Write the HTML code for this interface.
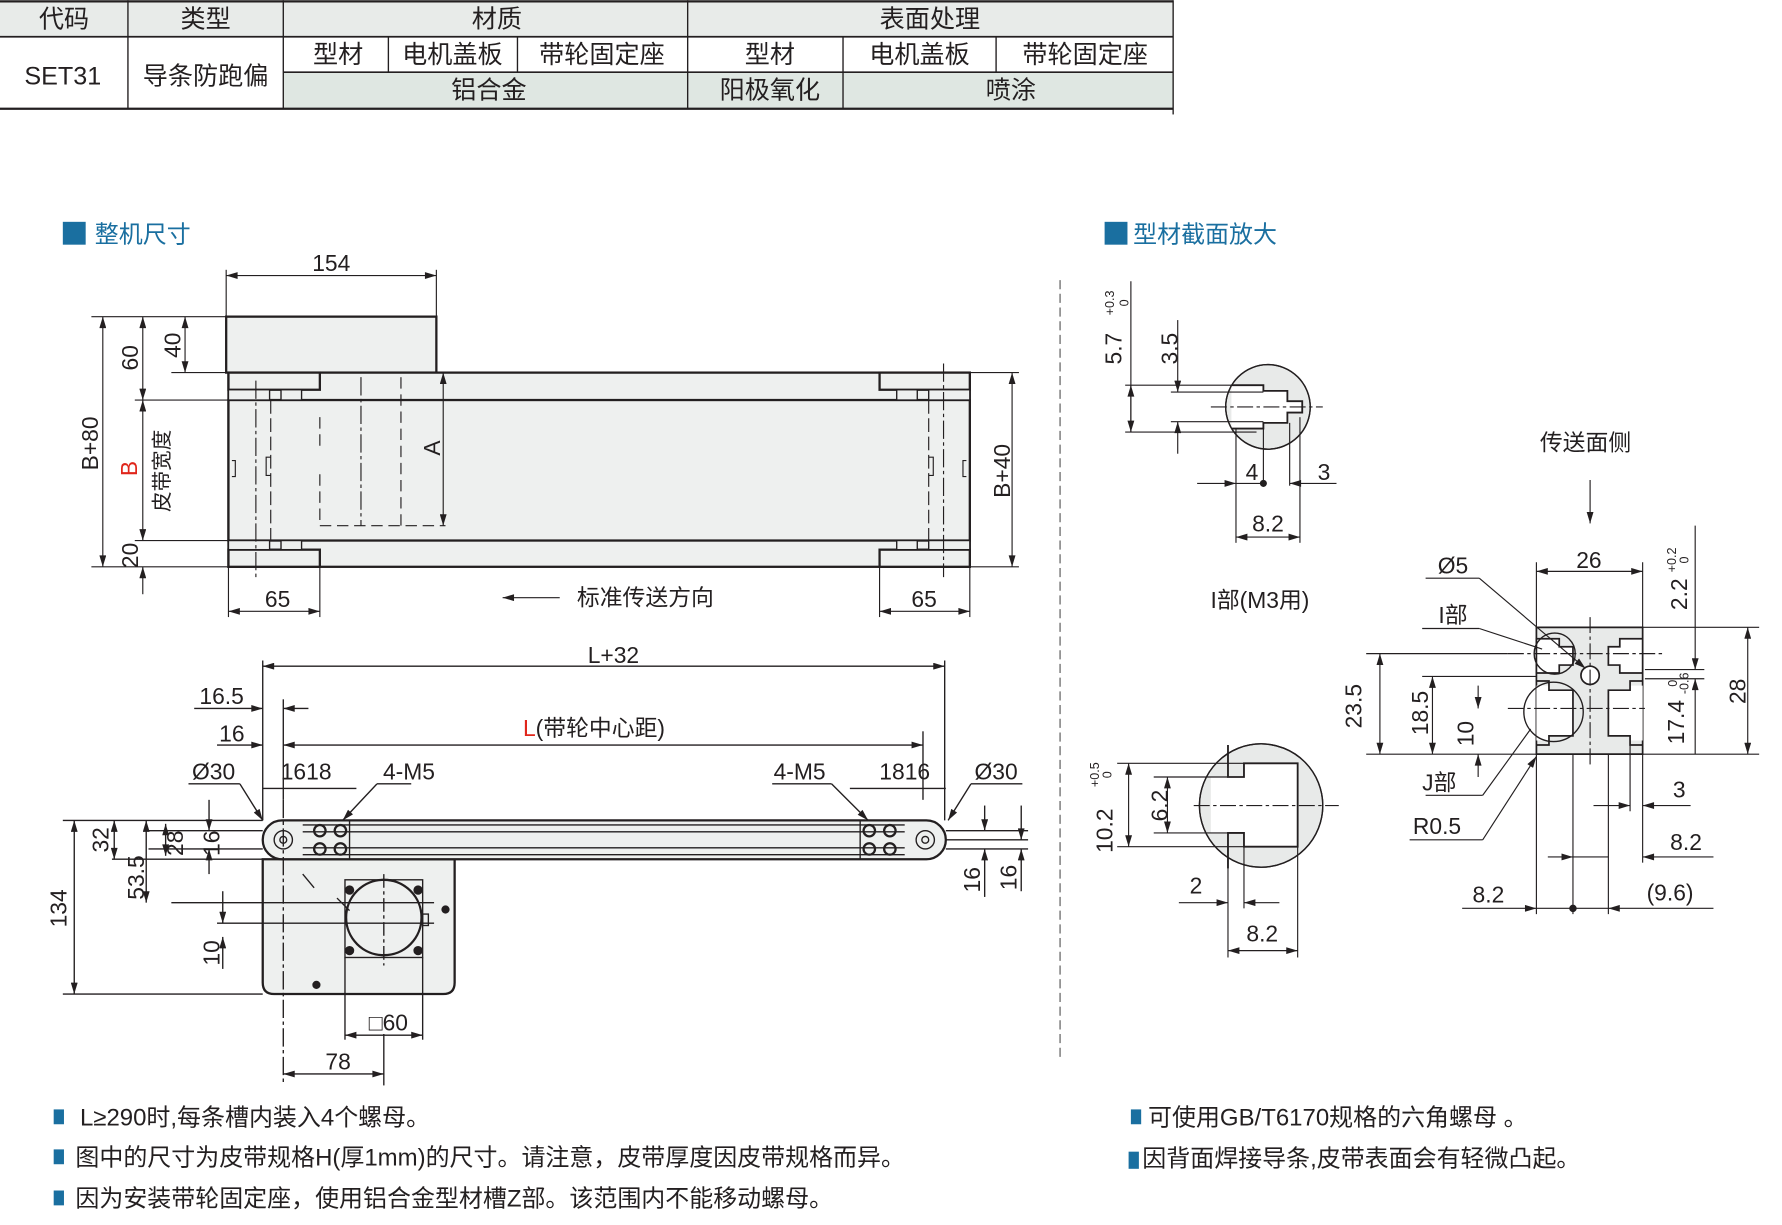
<!DOCTYPE html>
<html><head><meta charset="utf-8"><style>
html,body{margin:0;padding:0;background:#fff;}
svg{display:block;}
text{font-family:"Liberation Sans","Noto Sans CJK SC",sans-serif;fill:#231f20;}
</style></head><body>
<svg width="1782" height="1225" viewBox="0 0 1560 1072" xmlns="http://www.w3.org/2000/svg">
<defs>
<marker id="a" viewBox="0 0 10 6" refX="10" refY="3" markerWidth="12" markerHeight="6" markerUnits="userSpaceOnUse" orient="auto-start-reverse"><path d="M0,0 L10,3 L0,6 z" fill="#231f20"/></marker>
</defs>
<g stroke="#231f20" stroke-width="1.2" fill="none">
<rect x="0" y="0" width="1027" height="32" fill="#e8ebe9" stroke="none"/>
<rect x="248" y="63" width="779" height="32" fill="#dfe7e2" stroke="none"/>
<line x1="0" y1="1" x2="1027" y2="1" stroke-width="2"/>
<line x1="0" y1="32" x2="1027" y2="32" stroke-width="1.5"/>
<line x1="248" y1="63" x2="1027" y2="63" stroke-width="1.5"/>
<line x1="0" y1="95" x2="1027" y2="95" stroke-width="2"/>
<line x1="112" y1="0" x2="112" y2="95"/><line x1="248" y1="0" x2="248" y2="95"/>
<line x1="602" y1="0" x2="602" y2="95"/><line x1="1027" y1="0" x2="1027" y2="100"/>
<line x1="340" y1="32" x2="340" y2="63"/><line x1="453" y1="32" x2="453" y2="63"/>
<line x1="738" y1="32" x2="738" y2="95"/><line x1="872" y1="32" x2="872" y2="63"/>
</g>
<g font-size="22" text-anchor="middle">
<text x="56" y="24">代码</text><text x="180" y="24">类型</text><text x="435" y="24">材质</text><text x="814" y="24">表面处理</text>
<text x="296" y="55">型材</text><text x="396" y="55">电机盖板</text><text x="527" y="55">带轮固定座</text>
<text x="674" y="55">型材</text><text x="805" y="55">电机盖板</text><text x="950" y="55">带轮固定座</text>
<text x="55" y="74">SET31</text><text x="180" y="74">导条防跑偏</text>
<text x="428" y="86">铝合金</text><text x="674" y="86">阳极氧化</text><text x="885" y="86">喷涂</text>
</g>
<rect x="55" y="194" width="20" height="20" fill="#1a6fa0"/>
<text x="83" y="212" font-size="21" style="fill:#1a6fa0">整机尺寸</text>
<rect x="967" y="194" width="20" height="20" fill="#1a6fa0"/>
<text x="992" y="212" font-size="21" style="fill:#1a6fa0">型材截面放大</text>
<line x1="928" y1="245" x2="928" y2="928" stroke="#555" stroke-width="1" stroke-dasharray="8,4"/>

<!-- TOP VIEW -->
<g stroke="#231f20" stroke-width="2" fill="#eef0ef">
<rect x="198" y="277" width="184" height="49"/>
<rect x="200" y="326" width="649" height="170"/>
<rect x="200" y="350" width="649" height="123"/>
<rect x="200" y="326" width="80" height="15"/><rect x="770" y="326" width="79" height="15"/>
<rect x="200" y="481" width="80" height="15"/><rect x="770" y="481" width="79" height="15"/>
<rect x="200" y="341" width="36" height="9" stroke-width="1.2"/><rect x="813" y="341" width="36" height="9" stroke-width="1.2"/>
<rect x="200" y="473" width="36" height="8" stroke-width="1.2"/><rect x="813" y="473" width="36" height="8" stroke-width="1.2"/>
<rect x="246" y="341" width="18" height="9" stroke-width="1.2"/><rect x="785" y="341" width="18" height="9" stroke-width="1.2"/>
<rect x="246" y="473" width="18" height="8" stroke-width="1.2"/><rect x="785" y="473" width="18" height="8" stroke-width="1.2"/>
</g>
<g stroke="#231f20" stroke-width="1" fill="none">
<line x1="224" y1="333" x2="224" y2="505" stroke-dasharray="16,3,3,3"/>
<line x1="237" y1="350" x2="237" y2="473" stroke-dasharray="12,4"/>
<line x1="826" y1="318" x2="826" y2="505" stroke-dasharray="16,3,3,3"/>
<line x1="813" y1="350" x2="813" y2="473" stroke-dasharray="12,4"/>
<line x1="280" y1="415" x2="280" y2="460" stroke-dasharray="10,5"/>
<line x1="280" y1="365" x2="280" y2="395" stroke-dasharray="10,5"/>
<line x1="316" y1="330" x2="316" y2="460" stroke-dasharray="16,3,3,3"/>
<line x1="351" y1="330" x2="351" y2="460" stroke-dasharray="10,5"/>
<line x1="280" y1="460" x2="390" y2="460" stroke-dasharray="10,5"/>
<path d="M203,403 h3 v14 h-3 M846,403 h-3 v14 h3"/>
<path d="M237,400 h-4 v16 h4 M813,400 h4 v16 h-4"/>
<line x1="198" y1="236" x2="198" y2="277"/><line x1="382" y1="236" x2="382" y2="277"/>
<line x1="198" y1="241" x2="382" y2="241" marker-start="url(#a)" marker-end="url(#a)"/>
<line x1="80" y1="277" x2="198" y2="277"/><line x1="80" y1="496" x2="200" y2="496"/>
<line x1="118" y1="350" x2="200" y2="350"/><line x1="118" y1="473" x2="200" y2="473"/>
<line x1="150" y1="326" x2="200" y2="326"/>
<line x1="90" y1="277" x2="90" y2="496" marker-start="url(#a)" marker-end="url(#a)"/>
<line x1="125" y1="277" x2="125" y2="350" marker-start="url(#a)" marker-end="url(#a)"/>
<line x1="125" y1="350" x2="125" y2="473" marker-start="url(#a)" marker-end="url(#a)"/>
<line x1="125" y1="496" x2="125" y2="520" marker-start="url(#a)"/>
<line x1="162" y1="277" x2="162" y2="326" marker-start="url(#a)" marker-end="url(#a)"/>
<line x1="388" y1="326" x2="388" y2="460" marker-start="url(#a)" marker-end="url(#a)"/>
<line x1="849" y1="326" x2="892" y2="326"/><line x1="849" y1="496" x2="892" y2="496"/>
<line x1="886" y1="326" x2="886" y2="496" marker-start="url(#a)" marker-end="url(#a)"/>
<line x1="200" y1="496" x2="200" y2="540"/><line x1="280" y1="496" x2="280" y2="540"/>
<line x1="770" y1="496" x2="770" y2="540"/><line x1="849" y1="496" x2="849" y2="540"/>
<line x1="200" y1="535" x2="280" y2="535" marker-start="url(#a)" marker-end="url(#a)"/>
<line x1="770" y1="535" x2="849" y2="535" marker-start="url(#a)" marker-end="url(#a)"/>
<line x1="490" y1="523" x2="440" y2="523" marker-end="url(#a)"/>
</g>
<g font-size="20" text-anchor="middle">
<text x="290" y="237">154</text>
<text x="243" y="531">65</text><text x="809" y="531">65</text>
<text x="565" y="530">标准传送方向</text>
<text transform="translate(86,388) rotate(-90)">B+80</text>
<text transform="translate(121,313) rotate(-90)">60</text>
<text transform="translate(158,302) rotate(-90)">40</text>
<text transform="translate(121,486) rotate(-90)">20</text>
<text transform="translate(120,410) rotate(-90)" style="fill:#e0261b">B</text>
<text transform="translate(148,412) rotate(-90)" font-size="18">皮带宽度</text>
<text transform="translate(385,392) rotate(-90)">A</text>
<text transform="translate(884,412) rotate(-90)">B+40</text>
</g>

<!-- SIDE VIEW -->
<g stroke="#231f20" stroke-width="2" fill="#eef0ef">
<path d="M230,752 H398 V860 Q398,870 388,870 H240 Q230,870 230,860 Z"/>
<rect x="230" y="718" width="598" height="34" rx="17"/>
<rect x="302" y="770" width="68" height="68" fill="none" stroke-width="1.2"/>
<circle cx="336" cy="803" r="33"/>
</g>
<g stroke="#231f20" stroke-width="1.2" fill="none">
<line x1="265" y1="722" x2="792" y2="722"/><line x1="265" y1="728" x2="792" y2="728"/>
<line x1="265" y1="742" x2="792" y2="742"/><line x1="265" y1="748" x2="792" y2="748"/>
<line x1="306" y1="718" x2="306" y2="752"/><line x1="753" y1="718" x2="753" y2="752"/>
<circle cx="248" cy="735" r="8"/><circle cx="248" cy="735" r="3"/>
<circle cx="810" cy="735" r="8"/><circle cx="810" cy="735" r="3"/>
<g stroke-width="2"><circle cx="280" cy="727" r="5"/><circle cx="280" cy="743" r="5"/><circle cx="298" cy="727" r="5"/><circle cx="298" cy="743" r="5"/>
<circle cx="761" cy="727" r="5"/><circle cx="761" cy="743" r="5"/><circle cx="779" cy="727" r="5"/><circle cx="779" cy="743" r="5"/></g>
<circle cx="306" cy="779" r="3.5" fill="#231f20"/><circle cx="366" cy="779" r="3.5" fill="#231f20"/>
<circle cx="306" cy="832" r="3.5" fill="#231f20"/><circle cx="366" cy="832" r="3.5" fill="#231f20"/>
<circle cx="390" cy="796" r="3" fill="#231f20"/><circle cx="277" cy="862" r="3" fill="#231f20"/>
<rect x="370" y="800" width="5" height="10"/>
<line x1="265" y1="765" x2="275" y2="777"/><line x1="295" y1="786" x2="306" y2="797"/>
<line x1="336" y1="765" x2="336" y2="845" stroke-dasharray="12,3,3,3"/>
<line x1="248" y1="700" x2="248" y2="950" stroke-dasharray="16,3,3,3"/>
<line x1="150" y1="790" x2="380" y2="790"/><line x1="190" y1="808" x2="380" y2="808"/>
<line x1="230" y1="578" x2="230" y2="718"/><line x1="827" y1="578" x2="827" y2="718"/>
<line x1="230" y1="583" x2="827" y2="583" marker-start="url(#a)" marker-end="url(#a)"/>
<line x1="248" y1="612" x2="248" y2="700"/><line x1="808" y1="640" x2="808" y2="700"/>
<line x1="170" y1="620" x2="230" y2="620" marker-end="url(#a)"/><line x1="270" y1="620" x2="248" y2="620" marker-end="url(#a)"/>
<line x1="190" y1="652" x2="230" y2="652" marker-end="url(#a)"/>
<line x1="248" y1="652" x2="808" y2="652" marker-start="url(#a)" marker-end="url(#a)"/>
<line x1="230" y1="690" x2="312" y2="690"/><line x1="744" y1="690" x2="828" y2="690"/>
<line x1="165" y1="686" x2="210" y2="686"/><line x1="210" y1="686" x2="230" y2="718" marker-end="url(#a)"/>
<line x1="330" y1="686" x2="360" y2="686"/><line x1="330" y1="686" x2="300" y2="718" marker-end="url(#a)"/>
<line x1="676" y1="686" x2="728" y2="686"/><line x1="728" y1="686" x2="760" y2="718" marker-end="url(#a)"/>
<line x1="850" y1="686" x2="895" y2="686"/><line x1="850" y1="686" x2="830" y2="718" marker-end="url(#a)"/>
<line x1="55" y1="718" x2="230" y2="718"/><line x1="55" y1="870" x2="230" y2="870"/>
<line x1="65" y1="718" x2="65" y2="870" marker-start="url(#a)" marker-end="url(#a)"/>
<line x1="98" y1="752" x2="230" y2="752"/>
<line x1="100" y1="718" x2="100" y2="752" marker-start="url(#a)" marker-end="url(#a)"/>
<line x1="128" y1="718" x2="128" y2="790" marker-start="url(#a)" marker-end="url(#a)"/>
<line x1="145" y1="721" x2="145" y2="749" marker-start="url(#a)" marker-end="url(#a)"/>
<line x1="183" y1="700" x2="183" y2="727" marker-end="url(#a)"/><line x1="183" y1="765" x2="183" y2="743" marker-end="url(#a)"/>
<line x1="130" y1="727" x2="230" y2="727"/><line x1="130" y1="743" x2="230" y2="743"/>
<line x1="195" y1="780" x2="195" y2="808" marker-end="url(#a)"/><line x1="195" y1="848" x2="195" y2="820" marker-end="url(#a)"/>
<line x1="828" y1="727" x2="900" y2="727"/><line x1="828" y1="743" x2="900" y2="743"/><line x1="828" y1="735" x2="900" y2="735"/>
<line x1="862" y1="705" x2="862" y2="727" marker-end="url(#a)"/><line x1="862" y1="785" x2="862" y2="743" marker-end="url(#a)"/>
<line x1="894" y1="705" x2="894" y2="735" marker-end="url(#a)"/><line x1="894" y1="780" x2="894" y2="743" marker-end="url(#a)"/>
<line x1="302" y1="838" x2="302" y2="910"/><line x1="370" y1="838" x2="370" y2="910"/>
<line x1="302" y1="906" x2="370" y2="906" marker-start="url(#a)" marker-end="url(#a)"/>
<line x1="336" y1="905" x2="336" y2="950"/>
<line x1="248" y1="940" x2="336" y2="940" marker-start="url(#a)" marker-end="url(#a)"/>
</g>
<g font-size="20" text-anchor="middle">
<text x="537" y="580">L+32</text>
<text x="194" y="616">16.5</text><text x="203" y="649">16</text>
<text x="520" y="644"><tspan style="fill:#e0261b">L</tspan>(带轮中心距)</text>
<text x="187" y="682">Ø30</text><text x="268" y="682">1618</text><text x="358" y="682">4-M5</text>
<text x="700" y="682">4-M5</text><text x="792" y="682">1816</text><text x="872" y="682">Ø30</text>
<text x="340" y="902">□60</text><text x="296" y="936">78</text>
<text transform="translate(58,795) rotate(-90)">134</text>
<text transform="translate(95,735) rotate(-90)">32</text>
<text transform="translate(126,768) rotate(-90)">53.5</text>
<text transform="translate(160,738) rotate(-90)">28</text>
<text transform="translate(192,738) rotate(-90)">16</text>
<text transform="translate(192,834) rotate(-90)">10</text>
<text transform="translate(858,770) rotate(-90)">16</text>
<text transform="translate(890,768) rotate(-90)">16</text>
</g>

<!-- detail I -->
<g stroke="#231f20" stroke-width="1.2">
<circle cx="1110" cy="356" r="37" fill="#e8eae9"/>
<path d="M1078,337 H1106 V342 H1127 V351 H1140 V361 H1127 V370 H1106 V375 H1078 Z" fill="#fff" stroke="none"/>
<path d="M1078,337 H1106 V342 H1127 V351 H1140 V361 H1127 V370 H1106 V375 H1078" fill="none" stroke-width="1.6"/>
<circle cx="1110" cy="356" r="37" fill="none"/>
<g fill="none" stroke-width="1">
<line x1="1060" y1="356" x2="1158" y2="356" stroke-dasharray="14,3,3,3"/>
<line x1="985" y1="337" x2="1100" y2="337"/><line x1="985" y1="378" x2="1100" y2="378"/>
<line x1="1025" y1="343" x2="1106" y2="343"/><line x1="1025" y1="369" x2="1106" y2="369"/>
<line x1="990" y1="246" x2="990" y2="378"/><line x1="990" y1="337" x2="990" y2="378" marker-start="url(#a)" marker-end="url(#a)"/>
<line x1="1031" y1="280" x2="1031" y2="343" marker-end="url(#a)"/><line x1="1031" y1="397" x2="1031" y2="369" marker-end="url(#a)"/>
<line x1="1082" y1="375" x2="1082" y2="475"/><line x1="1106" y1="375" x2="1106" y2="425"/>
<line x1="1129" y1="370" x2="1129" y2="425"/><line x1="1138" y1="365" x2="1138" y2="475"/>
<line x1="1048" y1="423" x2="1082" y2="423" marker-end="url(#a)"/><line x1="1082" y1="423" x2="1106" y2="423"/>
<line x1="1170" y1="423" x2="1129" y2="423" marker-end="url(#a)"/>
<line x1="1082" y1="470" x2="1138" y2="470" marker-start="url(#a)" marker-end="url(#a)"/>
</g>
<circle cx="1106" cy="423" r="2.5" fill="#231f20"/>
</g>
<!-- detail J -->
<g stroke="#231f20" stroke-width="1.2">
<circle cx="1104" cy="705" r="54" fill="#e8eae9"/>
<path d="M1060,680 H1089 V668 H1136 V741 H1089 V729 H1060 Z" fill="#fff" stroke="none"/>
<path d="M1075,652 V680 H1089 V668 H1136 V741 H1089 V729 H1075 V760" fill="none" stroke-width="1.6"/>
<circle cx="1104" cy="705" r="54" fill="none"/>
<g fill="none" stroke-width="1">
<line x1="1045" y1="705" x2="1172" y2="705" stroke-dasharray="14,3,3,3"/>
<line x1="978" y1="668" x2="1089" y2="668"/><line x1="978" y1="741" x2="1089" y2="741"/>
<line x1="1010" y1="680" x2="1075" y2="680"/><line x1="1010" y1="729" x2="1075" y2="729"/>
<line x1="988" y1="668" x2="988" y2="741" marker-start="url(#a)" marker-end="url(#a)"/>
<line x1="1022" y1="680" x2="1022" y2="729" marker-start="url(#a)" marker-end="url(#a)"/>
<line x1="1075" y1="740" x2="1075" y2="838"/><line x1="1089" y1="741" x2="1089" y2="795"/>
<line x1="1136" y1="741" x2="1136" y2="838"/>
<line x1="1032" y1="790" x2="1075" y2="790" marker-end="url(#a)"/><line x1="1120" y1="790" x2="1089" y2="790" marker-end="url(#a)"/>
<line x1="1075" y1="832" x2="1136" y2="832" marker-start="url(#a)" marker-end="url(#a)"/>
</g>
</g>
<!-- profile -->
<g stroke="#231f20" stroke-width="1.5">
<path d="M1345,549 H1438 V660 H1345 Z" fill="#e8eae9"/>
<g fill="#fff">
<path d="M1345,559 H1365 V566 H1377 V582 H1365 V589 H1345 Z"/>
<path d="M1438,559 H1418 V566 H1408 V582 H1418 V589 H1438 Z"/>
<path d="M1345,600 H1356 V604 H1377 V644 H1356 V648 H1345 Z" stroke="none"/>
<path d="M1345,596 H1356 V604 H1377 V644 H1356 V652 H1345" fill="none"/>
<path d="M1438,600 H1427 V604 H1408 V644 H1427 V648 H1438 Z" stroke="none"/>
<path d="M1438,596 H1427 V604 H1408 V644 H1427 V652 H1438" fill="none"/>
<circle cx="1392" cy="591" r="8"/>
</g>
<circle cx="1361" cy="572" r="18" fill="none" stroke-width="1.2"/>
<circle cx="1360" cy="623" r="26" fill="none" stroke-width="1.2"/>
<g fill="none" stroke-width="1">
<line x1="1392" y1="540" x2="1392" y2="670" stroke-dasharray="14,3,3,3"/>
<line x1="1320" y1="572" x2="1456" y2="572" stroke-dasharray="14,3,3,3"/>
<line x1="1320" y1="620" x2="1440" y2="620" stroke-dasharray="14,3,3,3"/>
<line x1="1392" y1="420" x2="1392" y2="458" marker-end="url(#a)"/>
<line x1="1345" y1="492" x2="1345" y2="549"/><line x1="1438" y1="492" x2="1438" y2="549"/>
<line x1="1345" y1="500" x2="1438" y2="500" marker-start="url(#a)" marker-end="url(#a)"/>
<line x1="1438" y1="549" x2="1540" y2="549"/><line x1="1438" y1="660" x2="1540" y2="660"/>
<line x1="1196" y1="660" x2="1345" y2="660"/>
<line x1="1530" y1="549" x2="1530" y2="660" marker-start="url(#a)" marker-end="url(#a)"/>
<line x1="1484" y1="460" x2="1484" y2="586" marker-end="url(#a)"/>
<line x1="1484" y1="660" x2="1484" y2="594" marker-end="url(#a)"/>
<line x1="1440" y1="586" x2="1492" y2="586"/><line x1="1440" y1="594" x2="1492" y2="594"/>
<line x1="1196" y1="572" x2="1320" y2="572"/>
<line x1="1208" y1="572" x2="1208" y2="660" marker-start="url(#a)" marker-end="url(#a)"/>
<line x1="1245" y1="592" x2="1345" y2="592"/>
<line x1="1254" y1="592" x2="1254" y2="660" marker-start="url(#a)" marker-end="url(#a)"/>
<line x1="1294" y1="600" x2="1294" y2="620" marker-end="url(#a)"/><line x1="1294" y1="680" x2="1294" y2="660" marker-end="url(#a)"/>
<line x1="1345" y1="660" x2="1345" y2="800"/><line x1="1377" y1="660" x2="1377" y2="800"/>
<line x1="1408" y1="660" x2="1408" y2="800"/><line x1="1427" y1="652" x2="1427" y2="710"/>
<line x1="1438" y1="660" x2="1438" y2="755"/>
<line x1="1395" y1="705" x2="1427" y2="705" marker-end="url(#a)"/><line x1="1480" y1="705" x2="1438" y2="705" marker-end="url(#a)"/>
<line x1="1355" y1="750" x2="1377" y2="750" marker-end="url(#a)"/><line x1="1377" y1="750" x2="1408" y2="750"/><line x1="1500" y1="750" x2="1438" y2="750" marker-end="url(#a)"/>
<line x1="1280" y1="795" x2="1345" y2="795" marker-end="url(#a)"/><line x1="1345" y1="795" x2="1408" y2="795"/><line x1="1500" y1="795" x2="1408" y2="795" marker-end="url(#a)"/>
<line x1="1248" y1="506" x2="1295" y2="506"/><line x1="1295" y1="506" x2="1388" y2="585" marker-end="url(#a)"/>
<line x1="1245" y1="550" x2="1295" y2="550"/><line x1="1295" y1="550" x2="1350" y2="568"/>
<line x1="1248" y1="696" x2="1298" y2="696"/><line x1="1298" y1="696" x2="1340" y2="638"/>
<line x1="1234" y1="735" x2="1298" y2="735"/><line x1="1298" y1="735" x2="1345" y2="662" marker-end="url(#a)"/>
</g>
<circle cx="1377" cy="795" r="2.5" fill="#231f20"/>
</g>
<g font-size="20" text-anchor="middle">
<text x="1096" y="420">4</text><text x="1159" y="420">3</text><text x="1110" y="465">8.2</text>
<text x="1103" y="532">I部(M3用)</text>
<text transform="translate(982,305) rotate(-90)">5.7</text>
<text transform="translate(1031,305) rotate(-90)">3.5</text>
<text transform="translate(975,265) rotate(-90)" font-size="11">+0.3</text>
<text transform="translate(988,265) rotate(-90)" font-size="11">0</text>
<text x="1047" y="782">2</text><text x="1105" y="824">8.2</text>
<text transform="translate(974,727) rotate(-90)">10.2</text>
<text transform="translate(1022,705) rotate(-90)">6.2</text>
<text transform="translate(962,678) rotate(-90)" font-size="11">+0.5</text>
<text transform="translate(973,678) rotate(-90)" font-size="11">0</text>
<text x="1388" y="394">传送面侧</text>
<text x="1391" y="497">26</text><text x="1272" y="502">Ø5</text><text x="1272" y="545">I部</text>
<text x="1260" y="692">J部</text><text x="1258" y="730">R0.5</text>
<text x="1470" y="698">3</text><text x="1476" y="744">8.2</text>
<text x="1303" y="790">8.2</text><text x="1462" y="788">(9.6)</text>
<text transform="translate(1477,520) rotate(-90)">2.2</text>
<text transform="translate(1467,490) rotate(-90)" font-size="11">+0.2</text>
<text transform="translate(1478,490) rotate(-90)" font-size="11">0</text>
<text transform="translate(1528,605) rotate(-90)">28</text>
<text transform="translate(1192,618) rotate(-90)">23.5</text>
<text transform="translate(1250,624) rotate(-90)">18.5</text>
<text transform="translate(1290,642) rotate(-90)">10</text>
<text transform="translate(1474,632) rotate(-90)">17.4</text>
<text transform="translate(1478,598) rotate(-90)" font-size="11">-0.6</text>
<text transform="translate(1468,598) rotate(-90)" font-size="11">0</text>
</g>
<g font-size="21">
<rect x="47" y="971" width="9" height="13" fill="#1a6fa0"/><text x="70" y="985">L≥290时,每条槽内装入4个螺母。</text>
<rect x="47" y="1006" width="9" height="13" fill="#1a6fa0"/><text x="66" y="1020">图中的尺寸为皮带规格H(厚1mm)的尺寸。请注意，皮带厚度因皮带规格而异。</text>
<rect x="47" y="1042" width="9" height="13" fill="#1a6fa0"/><text x="66" y="1056">因为安装带轮固定座，使用铝合金型材槽Z部。该范围内不能移动螺母。</text>
<rect x="990" y="971" width="9" height="13" fill="#1a6fa0"/><text x="1005" y="985">可使用GB/T6170规格的六角螺母 。</text>
<rect x="988" y="1008" width="9" height="15" fill="#1a6fa0"/><text x="1000" y="1021">因背面焊接导条,皮带表面会有轻微凸起。</text>
</g>
</svg>
</body></html>
